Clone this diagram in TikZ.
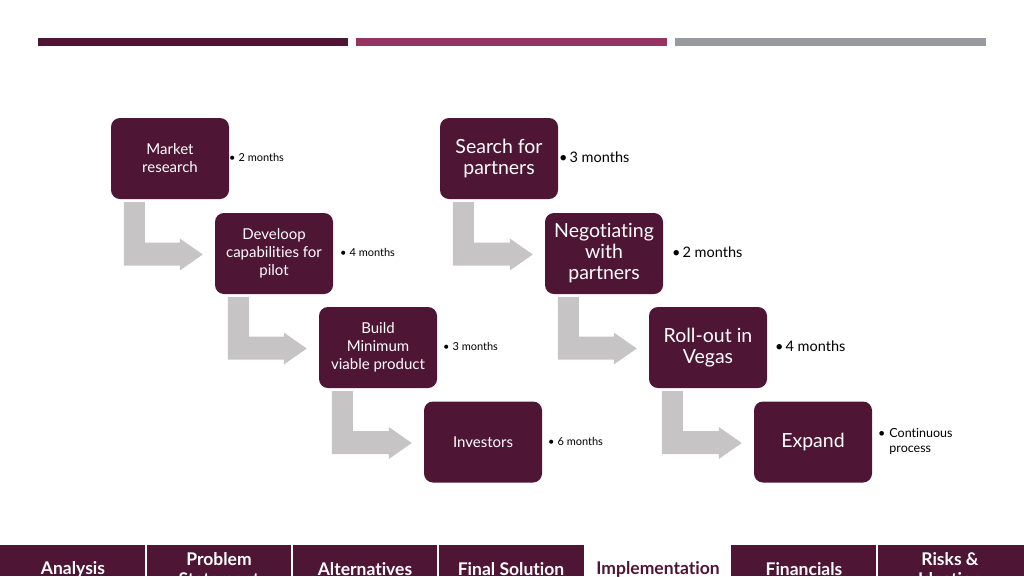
\documentclass[tikz,border=0pt]{standalone}
\usepackage{fontspec}
\setmainfont[Ligatures=NoCommon]{Lato}
\usepackage{xcolor}
\usepackage{tikz}
\usetikzlibrary{calc}
\definecolor{plum}{RGB}{78,21,52}
\definecolor{barmag}{RGB}{147,52,99}
\definecolor{bargray}{RGB}{152,154,158}
\definecolor{flowgray}{RGB}{199,196,197}

\tikzset{
  stepbox/.style={fill=plum, rounded corners=9pt, minimum width=118pt,
    minimum height=81pt, text=white, align=center, inner sep=2pt},
  smallstep/.style={stepbox, font=\fontsize{15}{18}\selectfont},
  bigstep/.style={stepbox, font=\fontsize{19.5}{21}\selectfont},
  smalllab/.style={anchor=west, inner sep=0pt, font=\fontsize{11}{13}\selectfont},
  biglab/.style={anchor=west, inner sep=0pt, font=\fontsize{14.5}{15}\selectfont},
  tabtext/.style={font=\bfseries\fontsize{17.5}{20}\selectfont, align=center},
  flowarrow/.style={fill=flowgray}
}

% bent grey arrow from box #1 down and into box #2
\newcommand\bentarrow[2]{%
  \fill[flowarrow] let \p1=(#1.south west), \p2=(#2.west) in
  (\x1+13pt,\y1-3pt) -- (\x1+34pt,\y1-3pt) -- (\x1+34pt,\y2+11pt)
  -- (\x2-35pt,\y2+11pt) -- (\x2-35pt,\y2+15pt) -- (\x2-12pt,\y2-1pt)
  -- (\x2-35pt,\y2-17pt) -- (\x2-35pt,\y2-12pt) -- (\x1+13pt,\y2-12pt) -- cycle;}

\begin{document}
\begin{tikzpicture}[x=1pt, y=-1pt]
            \useasboundingbox (0,0) rectangle (1024,576);
            \clip (0,0) rectangle (1024,576);
            % bars at the top
            \fill[plum] (38,38) rectangle (348,46);
            \fill[barmag] (356,38) rectangle (667,46);
            \fill[bargray] (675,38) rectangle (986,46);
            % left column
            \foreach \nm/\x/\y/\txt in {market/170/158.5/{Market\\research},
              develop/274/253.5/{Develoop\\capabilities for\\pilot},
              build/378/347.5/{Build\\Minimum\\viable product},
              investors/483/442/{Investors}}
            \node[smallstep] (\nm) at (\x,\y) {\txt};
            % right column
            \foreach \nm/\x/\y/\txt in {search/499/158.5/{Search for\\partners},
              negotiate/604/253.5/{Negotiating\\with\\partners},
              rollout/708/347.5/{Roll-out in\\Vegas},
              expand/813/442/{Expand}}
            \node[bigstep] (\nm) at (\x,\y) {\txt};
            % durations
            \node[smalllab] (marketlab) at (229,157.5) {•\hspace{3pt}2 months};
            \node[smalllab] (developlab) at (340,252.5) {•\hspace{3pt}4 months};
            \node[smalllab] (buildlab) at (443,346.5) {•\hspace{3pt}3 months};
            \node[smalllab] (investorslab) at (548,441.5) {•\hspace{3pt}6 months};
            \node[biglab] (searchlab) at (559,157.5) {•\hspace{2pt}3 months};
            \node[biglab] (negotiatelab) at (672,252.5) {•\hspace{2pt}2 months};
            \node[biglab] (rolloutlab) at (775,346.5) {•\hspace{2pt}4 months};
            \node[anchor=west, inner sep=0pt, font=\fontsize{12.5}{15}\selectfont] (expandlab) at (878,441.5)
              {\begin{tabular}{@{}l@{\hspace{4pt}}l@{}}•&Continuous\\&process\end{tabular}};
            % arrows
            \bentarrow{market}{develop}
            \bentarrow{develop}{build}
            \bentarrow{build}{investors}
            \bentarrow{search}{negotiate}
            \bentarrow{negotiate}{rollout}
            \bentarrow{rollout}{expand}
            % tabs at the bottom
            \fill[plum] (0,545) rectangle (584,576);
            \fill[plum] (731,545) rectangle (1024,576);
            \foreach \x in {146,292,438,877}
            \draw[white, line width=1.5pt] (\x,545) -- (\x,576);
            \foreach \nm/\x/\txt in {analysis/73/{Analysis},
              problem/219/{Problem\\Statement},
              alternatives/365/{Alternatives},
              final/511/{Final Solution},
              financials/804/{Financials},
              risks/950/{Risks \&\\Ideation}}
            \node[tabtext, text=white] (\nm) at (\x,569) {\txt};
            \node[tabtext, text=plum] (implementation) at (658,569) {Implementation};
        \end{tikzpicture}
\end{document}
